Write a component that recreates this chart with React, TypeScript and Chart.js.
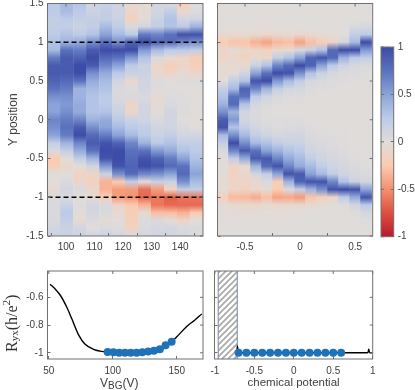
import React, { useEffect, useRef } from "react";
import { Chart, registerables } from "chart.js";

Chart.register(...registerables);

const FONT = "'Liberation Sans', Arial, sans-serif";
const INK = "#404040";
const FRAME = "#707070";

// Heat map rows run from Y = 1.5 down to Y = -1.5 in steps of 0.1
const rowY = [1.5,1.4,1.3,1.2,1.1,1,0.9,0.8,0.7,0.6,0.5,0.4,0.3,0.2,0.1,0,-0.1,-0.2,-0.3,-0.4,-0.5,-0.6,-0.7,-0.8,-0.9,-1,-1.1,-1.2,-1.3,-1.4,-1.5];

const vbgColumns = [95.8,100.3,104.9,109.4,114,118.5,123,127.6,132.1,136.7,141.2,145.7];
const vbgHeat = [
  [.25,.25,.2,.2,.25,.3,.35,.7,.9,.9,.85,.75,.6,.5,.5,.65,.6,.5,.2,.05,-.25,-.2,0,0,-.05,.05,.05,.05,.05,.1,.15],
  [.35,.35,.25,.2,.3,.4,.75,.9,.9,.9,.8,.7,.6,.55,.6,.7,.75,.7,.4,.2,0,-.1,0,.05,.1,.05,.15,.25,.2,.15,.15],
  [.3,.25,.2,.15,.25,.45,.7,.85,1,1,.75,.4,.4,.45,.45,.65,.9,1,.65,.45,.2,0,-.15,-.1,.05,0,.03,-.02,-.05,.1,.15],
  [.1,.15,.2,.2,.3,.6,.9,1,.9,.6,.45,.35,.3,.3,.3,.4,.6,.8,.9,.75,.4,.1,-.12,-.15,-.1,-.05,.1,.1,.05,0,.1],
  [.15,.2,.2,.35,.5,.75,1,.8,.65,.45,.35,.3,.25,.25,.3,.45,.5,.7,.95,1,.95,.55,.15,-.35,-.35,-.2,.05,.05,-.03,.05,.15],
  [.15,.12,.15,.2,.35,.6,1,.75,.5,.25,.1,.05,.05,.1,.15,.25,.35,.5,.85,1,1,.95,.6,-.25,-.45,-.45,-.1,-.05,-.02,.03,.1],
  [-.05,-.1,-.15,.05,.25,.85,1,.55,.25,.15,-.07,.03,.05,-.1,-.1,.15,.25,.35,.65,.75,.8,.85,.8,.2,-.45,-.5,-.25,-.2,-.2,-.15,.05],
  [-.02,-.05,-.02,.1,.7,1,.55,.3,.15,.15,.1,.1,.05,.1,.1,.12,.2,.25,.4,.75,.95,1,.65,0,-.62,-.65,-.35,-.05,.03,.05,.08],
  [.08,.1,.15,.2,.65,.85,.35,.05,-.1,-.08,.03,.02,-.05,-.05,-.03,.05,.1,.15,.25,.55,.85,.95,.6,.15,-.45,-.58,-.6,-.3,.05,.08,.1],
  [.05,.2,.3,.3,.75,.8,.25,-.05,-.2,-.12,0,.02,.03,.05,.1,.1,.12,.2,.3,.45,.7,.8,.5,.15,-.15,-.68,-.65,-.3,-.02,.1,.1],
  [-.2,-.08,.1,.25,.95,.65,.25,-.1,-.12,-.05,.02,0,.02,.02,.03,0,.05,.1,.2,.3,.5,.75,.8,.6,.2,-.6,-.65,-.35,-.1,.05,.08],
  [.02,.03,.1,.4,.95,.6,.2,-.2,-.2,-.1,.02,0,-.02,0,0,-.02,0,.1,.2,.25,.3,.4,.5,.35,.2,-.6,-.65,-.25,0,.05,.03],
];

const potentialColumns = [-0.7,-0.6,-0.5,-0.4,-0.3,-0.2,-0.1,0,0.1,0.2,0.3,0.4,0.5,0.6];
const potentialHeat = [
  [0,0,0,-.02,-.06,-.22,-.1,-.12,-.03,-.05,-.02,.2,.3,.4,.6,.9,.95,.35,.2,.05,.02,0,-.03,-.03,-.03,-.18,-.03,-.02,0,0,0],
  [0,0,0,-.02,-.06,-.28,-.03,-.1,-.06,-.02,.2,.35,.75,.8,.4,.55,.3,.6,1,.65,.2,-.12,-.15,-.12,-.12,-.32,-.06,-.03,0,0,0],
  [0,0,0,-.02,-.05,-.28,-.1,-.14,-.06,.1,.3,.85,.75,.3,.1,.1,.2,.35,.6,.9,.45,-.05,-.1,-.12,-.15,-.33,-.08,-.03,0,0,0],
  [0,0,0,-.02,-.06,-.36,-.12,-.05,.15,.5,.95,.65,.25,.08,.05,.05,.1,.2,.35,.75,.9,.4,.1,-.08,-.08,-.38,-.08,-.03,0,0,0],
  [0,0,0,-.02,-.08,-.42,-.15,-.08,.3,.75,1,.4,.12,.05,.02,.03,.05,.12,.3,.5,.9,.8,.2,.05,-.05,-.3,-.05,-.02,0,0,0],
  [0,0,0,-.02,-.06,-.33,-.08,.2,.65,1,.55,.2,.05,.02,0,.02,.03,.08,.2,.4,.65,.95,.5,-.22,-.25,-.42,-.08,-.02,0,0,0],
  [0,0,0,-.02,-.05,-.3,-.05,.3,.8,.95,.35,.1,.03,.01,0,.02,.04,.1,.15,.3,.45,.65,.95,.4,.05,-.4,-.08,-.02,0,0,0],
  [0,0,0,0,-.07,-.42,.05,.5,1,.6,.2,.08,.03,.01,0,.02,.05,.1,.15,.25,.35,.45,.9,.85,.2,-.45,-.06,-.02,0,0,0],
  [0,0,0,0,-.04,-.3,.15,.85,.85,.3,.08,.03,.01,0,0,0,.02,.05,.08,.12,.2,.35,.5,.95,.4,-.28,-.04,0,0,0,0],
  [0,0,0,0,-.03,-.2,.3,.95,.5,.15,.05,.02,0,0,0,0,.01,.03,.05,.08,.12,.2,.35,.95,.6,-.18,-.03,0,0,0,0],
  [0,0,0,0,-.02,-.12,.8,.8,.25,.08,.03,.01,0,0,0,0,0,.02,.03,.05,.08,.12,.2,.65,.95,-.1,-.02,0,0,0,0],
  [0,0,0,0,0,.1,1,.4,.12,.04,.02,0,0,0,0,0,0,.01,.02,.03,.05,.08,.12,.3,1,.25,.02,0,0,0,0],
  [0,0,0,.05,.2,.35,1,.25,.08,.03,.01,0,0,0,0,0,0,0,0,.01,.02,.04,.07,.15,.95,.45,.1,.02,0,0,0],
  [0,0,0,.08,.25,1,.55,.2,.05,.02,.01,0,0,0,0,0,0,0,0,0,.01,.02,.05,.1,.5,.95,.25,.08,.02,0,0],
];

const colorValues = [-1,-0.75,-0.5,-0.25,0,0.25,0.5,0.75,1];
const colorHex = ["#b81a2e","#dd4f40","#f4906f","#fbcbb0","#e0dcda","#bccbe8","#8ba3d8","#5a72bd","#3d4ca6"];

const vbgLineX = [51,55,59,64,68,73.5,78,85,90,94,96,100.5,105,109.5,114,118.6,123.1,127.7,132.2,136.8,141.3,146,150,157.8,164,169.5];
const vbgLineY = [-.505,-.54,-.585,-.67,-.755,-.875,-.935,-.975,-.988,-.993,-.995,-.997,-1,-1,-1,-1,-.997,-.99,-.985,-.975,-.945,-.92,-.885,-.81,-.765,-.72];
const vbgDotX = [96,100.5,105,109.5,114,118.6,123.1,127.7,132.2,136.8,141.3,146];
const vbgDotY = [-.995,-.997,-1,-1,-1,-1,-.997,-.99,-.985,-.975,-.945,-.92];

const potLineX = [-.717,-.716,-.7,-.6,-.3,0,.3,.6,.9,.94,.95,.96,1];
const potLineY = [-1,-.95,-1,-1,-1,-1,-1,-1,-1,-.998,-.975,-.998,-1];
const potDotX = potentialColumns;
const potDotY = [-1,-1,-1,-1,-1,-1,-1,-1,-1,-1,-1,-1,-1,-1];
const gapLeft = -0.958;
const gapRight = -0.717;

const yTicksHeat = { min: -1.5, max: 1.5, step: 0.5 };

function colorFor(v: number) {
  const rgb = (h: string) => [1, 3, 5].map((i) => parseInt(h.slice(i, i + 2), 16));
  let i = 0;
  while (i < colorValues.length - 2 && v > colorValues[i + 1]) i++;
  const t = Math.max(0, Math.min(1, (v - colorValues[i]) / (colorValues[i + 1] - colorValues[i])));
  const a = rgb(colorHex[i]);
  const b = rgb(colorHex[i + 1]);
  return `rgb(${a.map((c, k) => Math.round(c + (b[k] - c) * t)).join(",")})`;
}

const framePlugin = {
  id: "frame",
  afterDraw(chart: any) {
    const { ctx, chartArea: a, scales } = chart;
    ctx.save();
    ctx.strokeStyle = FRAME;
    ctx.lineWidth = 1;
    ctx.strokeRect(a.left, a.top, a.right - a.left, a.bottom - a.top);
    ctx.beginPath();
    for (const s of Object.values<any>(scales)) {
      if (!s.options.display) continue;
      for (const t of s.ticks) {
        const p = s.getPixelForValue(t.value);
        if (s.isHorizontal()) {
          ctx.moveTo(p, a.top);
          ctx.lineTo(p, a.top + 3);
        } else {
          const x = s.position === "right" ? a.left : a.right;
          ctx.moveTo(x, p);
          ctx.lineTo(s.position === "right" ? x + 3 : x - 3, p);
        }
      }
    }
    ctx.stroke();
    ctx.restore();
  },
};

function axisBase(extra: any) {
  return {
    type: "linear",
    grid: { drawOnChartArea: false, drawTicks: true, tickLength: -3, color: FRAME, z: 1 },
    border: { display: false },
    ...extra,
  };
}
const tickFont = { family: FONT, size: 10 };

function verticalGradient(chart: any, from: number, to: number) {
  const s = chart.scales.y;
  if (!s) return null;
  const p0 = s.getPixelForValue(from);
  const p1 = s.getPixelForValue(to);
  if (!Number.isFinite(p0) || !Number.isFinite(p1)) return null;
  return chart.ctx.createLinearGradient(0, p0, 0, p1);
}

function heatDataset(xs: number[], cols: number[][]) {
  return {
    type: "bar",
    data: xs.map((x) => ({ x, y: [rowY[rowY.length - 1], rowY[0]] })),
    barPercentage: 1,
    categoryPercentage: 1,
    order: 2,
    backgroundColor: (c: any) => {
      if (c.dataIndex === undefined) return "transparent";
      const g = verticalGradient(c.chart, rowY[0], rowY[rowY.length - 1]);
      if (!g) return "transparent";
      cols[c.dataIndex].forEach((v, i) => g.addColorStop(i / (rowY.length - 1), colorFor(v)));
      return g;
    },
  };
}

function heatConfig(xs: number[], cols: number[][], xr: any, showY: boolean, dashed: boolean, pad: number) {
  const datasets: any[] = [heatDataset(xs, cols)];
  if (dashed) {
    for (const y of [1, -1]) {
      datasets.push({
        type: "line",
        data: [{ x: xr.min, y }, { x: xr.max, y }],
        borderColor: "#000",
        borderWidth: 1.3,
        borderDash: [5, 3],
        pointRadius: 0,
        order: 1,
      });
    }
  }
  return {
    type: "bar",
    data: { datasets },
    options: {
      animation: false,
      responsive: false,
      maintainAspectRatio: false,
      plugins: { legend: { display: false }, tooltip: { enabled: false } },
      layout: { padding: { left: 0, top: 23.5, right: pad, bottom: 0 } },
      scales: {
        x: axisBase({
          min: xr.min,
          max: xr.max,
          offset: false,
          afterFit: (s: any) => { s.height = 19; },
          ticks: {
            stepSize: xr.step,
            includeBounds: false,
            maxRotation: 0,
            autoSkip: false,
            font: tickFont,
            color: INK,
            padding: 8,
            callback: (v: number) => String(Math.round(v * 100) / 100),
          },
        }),
        y: axisBase({
          min: yTicksHeat.min,
          max: yTicksHeat.max,
          afterFit: (s: any) => { s.width = showY ? 47.5 : 12.5; },
          title: showY
            ? { display: true, text: "Y position", font: { family: FONT, size: 12 }, color: INK, padding: { top: 6, bottom: 0 } }
            : { display: false },
          ticks: {
            stepSize: yTicksHeat.step,
            includeBounds: false,
            autoSkip: false,
            font: tickFont,
            color: INK,
            padding: 7,
            callback: (v: number) => (showY ? String(v) : ""),
          },
        }),
      },
    },
    plugins: [framePlugin],
  };
}

function makeHatch() {
  const c = document.createElement("canvas");
  c.width = 6;
  c.height = 6;
  const g = c.getContext("2d")!;
  g.fillStyle = "#fff";
  g.fillRect(0, 0, 6, 6);
  g.strokeStyle = "#a8a8a8";
  g.lineWidth = 1.6;
  g.beginPath();
  g.moveTo(-1, 7); g.lineTo(7, -1);
  g.moveTo(-4, 4); g.lineTo(4, -4);
  g.moveTo(2, 10); g.lineTo(10, 2);
  g.stroke();
  return g.createPattern(c, "repeat");
}

function lineConfig(lx: number[], ly: number[], dx: number[], dy: number[], xr: any, leftWidth: number, showY: boolean, hatch: boolean, pad: number, xTitle?: string) {
  const zip = (a: number[], b: number[]) => a.map((x, i) => ({ x, y: b[i] }));
  const yMin = -1.045;
  const yMax = -0.41;
  const datasets: any[] = [
    { type: "scatter", data: zip(lx, ly), showLine: true, cubicInterpolationMode: "monotone", borderColor: "#000", borderWidth: 1.4, pointRadius: 0, order: 2 },
    { type: "scatter", data: zip(dx, dy), showLine: false, backgroundColor: "#1f72b8", borderWidth: 0, pointRadius: 4, order: 1 },
  ];
  if (hatch) {
    datasets.push(
      {
        type: "line",
        data: [{ x: gapLeft, y: yMax }, { x: gapRight, y: yMax }],
        fill: "start",
        backgroundColor: makeHatch(),
        borderWidth: 0,
        pointRadius: 0,
        order: 4,
      },
      { type: "line", data: [{ x: gapLeft, y: yMin }, { x: gapLeft, y: yMax }], borderColor: "#7684a8", borderWidth: 1, pointRadius: 0, order: 3 },
      { type: "line", data: [{ x: gapRight, y: yMin }, { x: gapRight, y: yMax }], borderColor: "#7684a8", borderWidth: 1, pointRadius: 0, order: 3 },
    );
  }
  return {
    type: "scatter",
    data: { datasets },
    options: {
      animation: false,
      responsive: false,
      maintainAspectRatio: false,
      plugins: { legend: { display: false }, tooltip: { enabled: false } },
      layout: { padding: { left: 0, top: 11.5, right: pad, bottom: 0 } },
      scales: {
        x: axisBase({
          min: xr.min,
          max: xr.max,
          afterFit: (s: any) => { s.height = 31; },
          title: xTitle
            ? { display: true, text: xTitle, font: { family: FONT, size: 11.5 }, color: INK, padding: { top: 0, bottom: 0 } }
            : { display: false },
          ticks: {
            stepSize: xr.step,
            includeBounds: false,
            maxRotation: 0,
            autoSkip: false,
            font: tickFont,
            color: INK,
            padding: 9,
            callback: (v: number) => String(Math.round(v * 100) / 100),
          },
        }),
        y: axisBase({
          min: yMin,
          max: yMax,
          afterFit: (s: any) => { s.width = leftWidth; },
          ticks: {
            stepSize: 0.2,
            includeBounds: false,
            autoSkip: false,
            font: tickFont,
            color: INK,
            padding: 7,
            callback: (v: number) => (showY ? String(Math.round(v * 10) / 10) : ""),
          },
        }),
      },
    },
    plugins: [framePlugin],
  };
}

function colorbarConfig() {
  return {
    type: "bar",
    data: {
      labels: ["colorbar"],
      datasets: [
        {
          data: [[-1, 1]],
          barPercentage: 1,
          categoryPercentage: 1,
          backgroundColor: (c: any) => {
            const g = verticalGradient(c.chart, -1, 1);
            if (!g) return "transparent";
            colorValues.forEach((v, i) => g.addColorStop(i / (colorValues.length - 1), colorHex[i]));
            return g;
          },
        },
      ],
    },
    options: {
      animation: false,
      responsive: false,
      maintainAspectRatio: false,
      plugins: { legend: { display: false }, tooltip: { enabled: false } },
      layout: { padding: { left: 6, top: 37, right: 0, bottom: 18.3 } },
      scales: {
        x: { display: false },
        y: axisBase({
          position: "right",
          min: -1,
          max: 1,
          afterFit: (s: any) => { s.width = 21.3; },
          ticks: { stepSize: 0.5, autoSkip: false, font: tickFont, color: INK, padding: 7, callback: (v: number) => String(v) },
        }),
      },
    },
    plugins: [framePlugin],
  };
}

function Panel({ make, left, top, width, height }: any) {
  const ref = useRef<HTMLCanvasElement>(null);
  useEffect(() => {
    const chart = new Chart(ref.current!, make());
    return () => chart.destroy();
  }, []);
  return (
    <canvas
      ref={ref}
      width={width}
      height={height}
      style={{ position: "absolute", left, top, width, height, display: "block" }}
    />
  );
}

export default function App() {
  return (
    <div style={{ position: "absolute", left: 0, top: 0, width: 415, height: 390, background: "#fff", overflow: "hidden" }}>
      <Panel left={0} top={-20} width={210} height={275}
        make={() => heatConfig(vbgColumns, vbgHeat, { min: 93.5, max: 148, step: 10 }, true, true, 7)} />
      <Panel left={205} top={-20} width={175} height={275}
        make={() => heatConfig(potentialColumns, potentialHeat, { min: -0.75, max: 0.66, step: 0.5 }, false, false, 7.3)} />
      <Panel left={375} top={10} width={40} height={245} make={colorbarConfig} />
      <Panel left={0} top={258} width={210} height={132}
        make={() => lineConfig(vbgLineX, vbgLineY, vbgDotX, vbgDotY, { min: 49, max: 170.5, step: 50 }, 47.5, true, false, 7)} />
      <Panel left={185} top={258} width={210} height={132}
        make={() => lineConfig(potLineX, potLineY, potDotX, potDotY, { min: -1.005, max: 1, step: 0.5 }, 29.5, false, true, 22.3, "chemical potential")} />
      <div style={{ position: "absolute", left: 100, top: 376, font: `12px ${FONT}`, color: INK, whiteSpace: "nowrap" }}>
        V<sub style={{ fontSize: 10, verticalAlign: -2, lineHeight: 0 }}>BG</sub>(V)
      </div>
      <div style={{ position: "absolute", left: 3, top: 288, height: 70, writingMode: "vertical-rl", transform: "rotate(180deg)", font: "16px 'Liberation Serif', serif", color: "#333", whiteSpace: "nowrap", textAlign: "center" }}>
        R<sub style={{ fontSize: 11, verticalAlign: -2, lineHeight: 0 }}>yx</sub>(h/e<sup style={{ fontSize: 11, verticalAlign: 6, lineHeight: 0 }}>2</sup>)
      </div>
    </div>
  );
}
